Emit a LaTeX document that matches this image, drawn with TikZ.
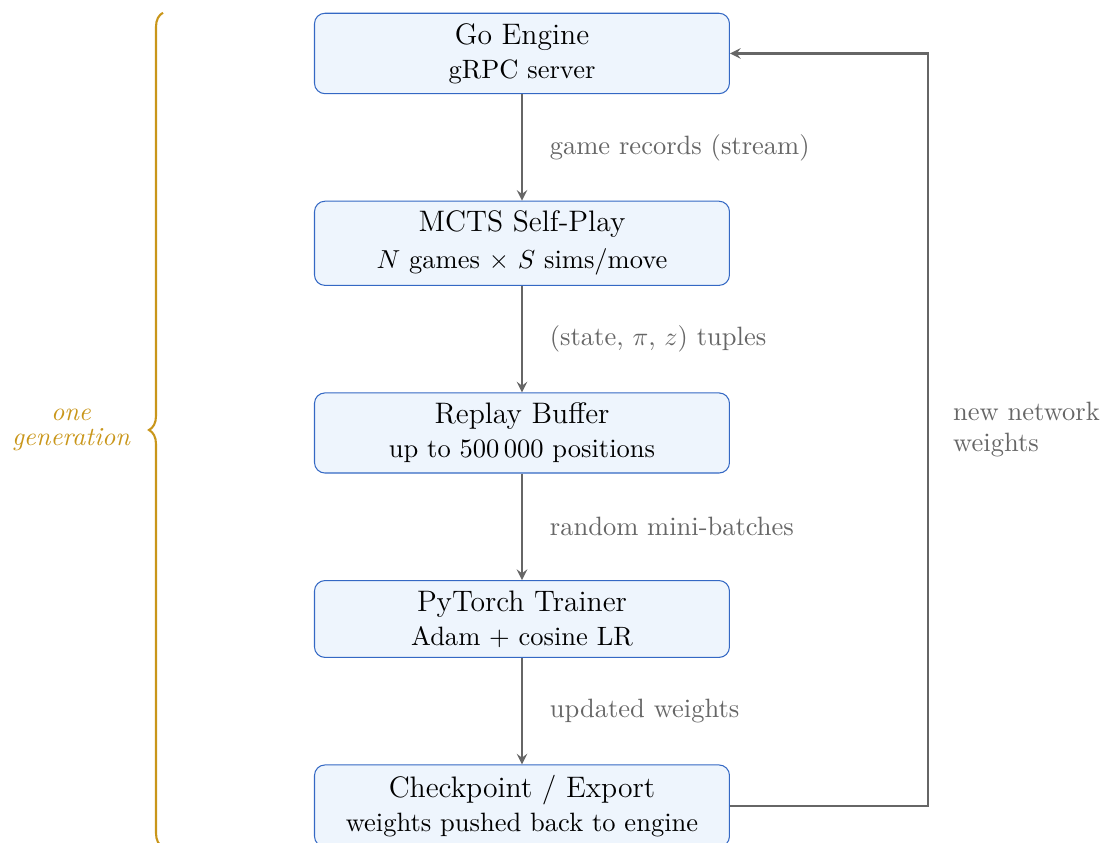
\documentclass[tikz,border=0pt]{standalone}
\usetikzlibrary{positioning,decorations.pathreplacing}

\definecolor{boxblue}{RGB}{52,104,196}
\definecolor{boxfill}{RGB}{238,245,253}
\definecolor{flowgray}{RGB}{102,102,102}
\definecolor{bracegold}{RGB}{201,150,26}

\tikzset{
    stage/.style={draw=boxblue, fill=boxfill, thin, rounded corners=4pt, minimum width=5.61cm, align=center, inner ysep=3.8pt},
    flow/.style={draw=flowgray, line width=0.8pt, -stealth},
    flowlabel/.style={text=flowgray, right, xshift=7pt},
}
\newcommand{\stagetitle}[1]{{\fontsize{11.4}{13.4}\selectfont #1}}

\begin{document}
\begin{tikzpicture}[node distance=1.44cm, font=\fontsize{10.2}{12.2}\selectfont]
            \useasboundingbox (0,0) rectangle (14.885,-11.397);

            % pipeline stages
            \node[stage] (engine) at (7.057,-0.723) {\stagetitle{Go Engine}\\[1pt] gRPC server};
            \node[stage, below=of engine] (selfplay) {\stagetitle{MCTS Self-Play}\\[2pt] $N$ games $\times$ $S$ sims/move};
            \node[stage, below=of selfplay] (buffer) {\stagetitle{Replay Buffer}\\[1pt] up to 500\,000 positions};
            \node[stage, below=of buffer] (trainer) {\stagetitle{PyTorch Trainer}\\[1pt] Adam + cosine LR};
            \node[stage, below=of trainer] (export) {\stagetitle{Checkpoint / Export}\\[1pt] weights pushed back to engine};

            \draw[flow] (engine) -- node[flowlabel] {game records (stream)} (selfplay);
            \draw[flow] (selfplay) -- node[flowlabel] {(state, $\pi$, $z$) tuples} (buffer);
            \draw[flow] (buffer) -- node[flowlabel] {random mini-batches} (trainer);
            \draw[flow] (trainer) -- node[flowlabel] {updated weights} (export);

            % feedback loop
            \coordinate (loopx) at (12.545, 0);
            \draw[flow] (export.east) -- (export.east -| loopx) -- node[midway, right, xshift=6pt, align=left, text=flowgray] {new network\\weights} (engine.east -| loopx) -- (engine.east);

            % generation brace
            \coordinate (bracex) at (2.204, 0);
            \draw[bracegold, line width=0.8pt, decorate, decoration={brace, amplitude=5.4pt}] (export.south -| bracex) -- (engine.north -| bracex) node[midway, left=9pt, align=center, font=\itshape] {one\\[-2.4pt]generation};
\end{tikzpicture}
\end{document}
